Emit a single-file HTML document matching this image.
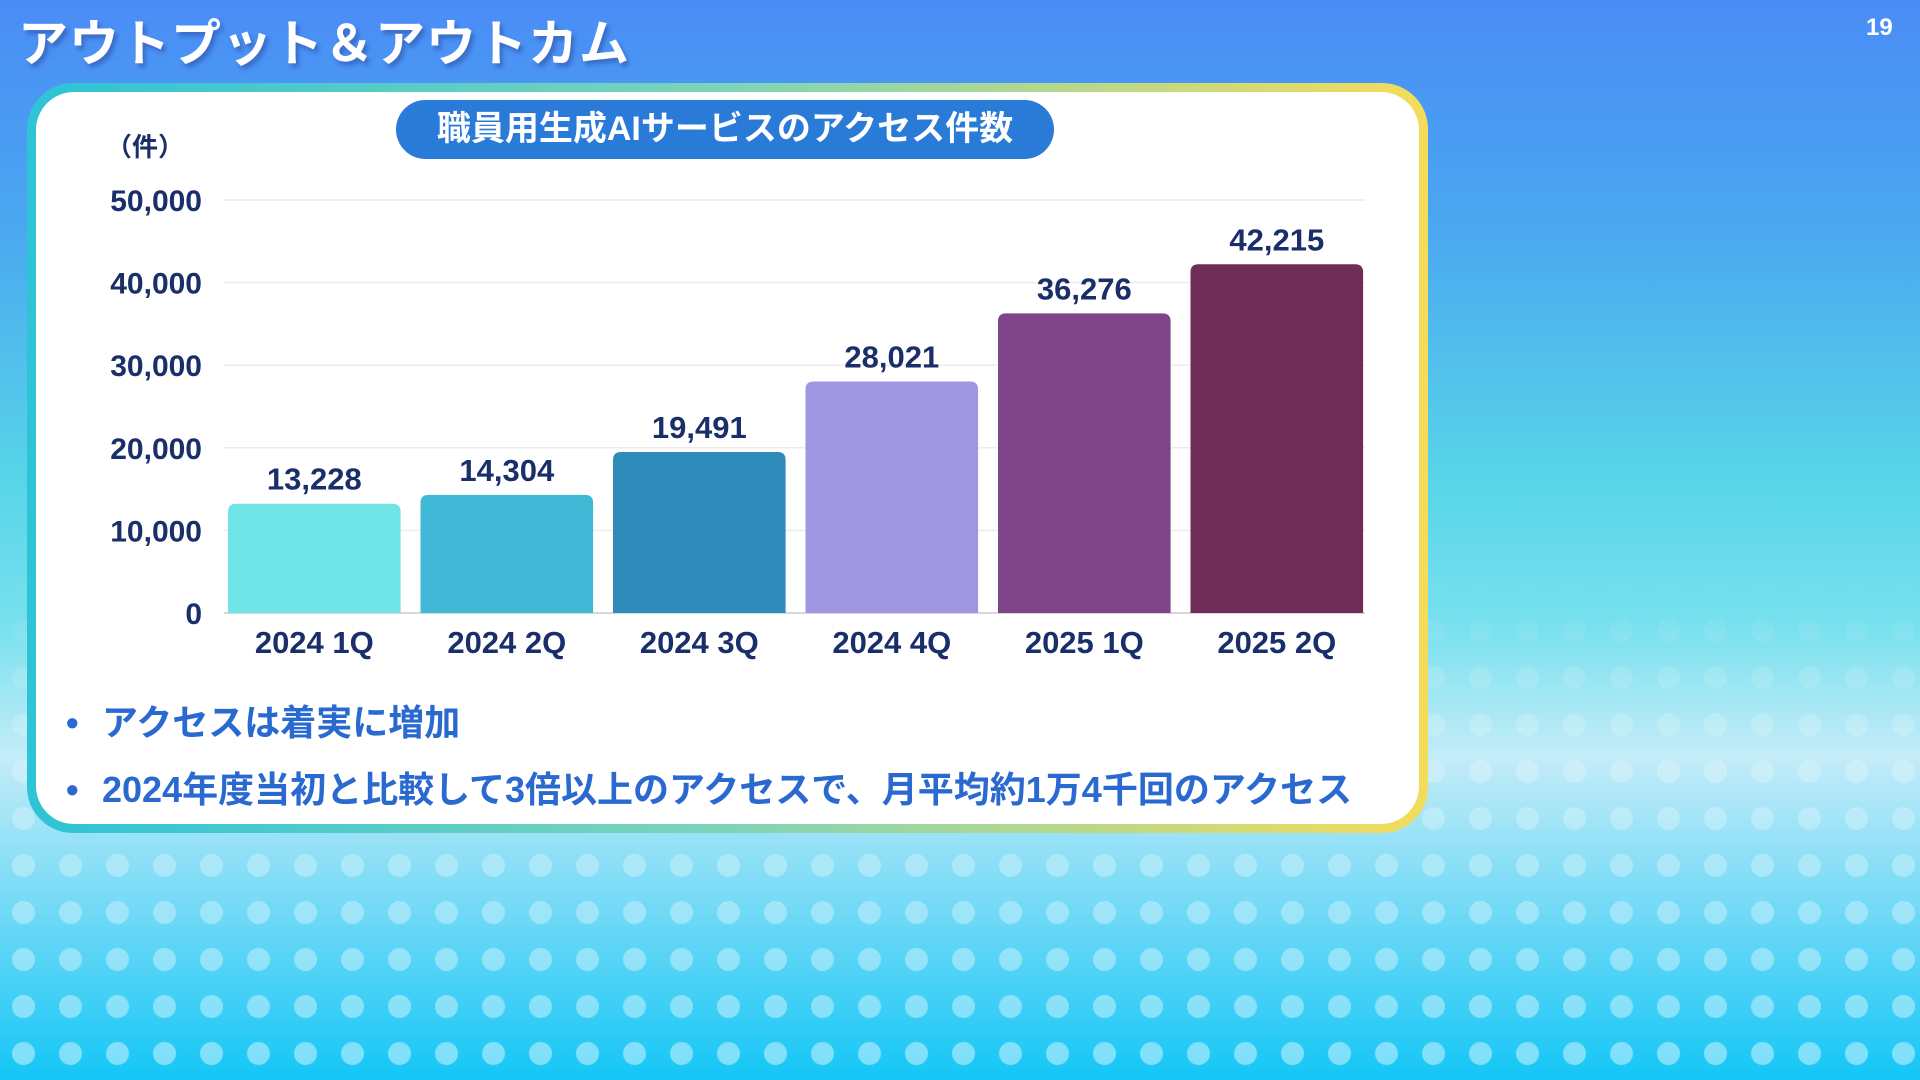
<!DOCTYPE html>
<html><head><meta charset="utf-8"><style>
html,body{margin:0;padding:0}
body{width:1920px;height:1080px;position:relative;overflow:hidden;font-family:"Liberation Sans","Noto Sans CJK JP",sans-serif;
background:linear-gradient(180deg,#4a8cf6 0%,#4aa6f0 20%,#58d6e8 45%,#78e0ee 58%,#c4ecf8 70%,#7fdcf6 82%,#14c6f6 100%);}
#dots{position:absolute;left:0;top:560px;width:1920px;height:520px;
background-image:radial-gradient(circle,rgba(255,255,255,0.45) 11px,transparent 12px);
background-size:47px 47px;background-position:0 0;
-webkit-mask-image:linear-gradient(180deg,transparent 0%,rgba(0,0,0,.5) 40%,#000 100%);
mask-image:linear-gradient(180deg,transparent 0%,rgba(0,0,0,.5) 40%,#000 100%);}
#title{position:absolute;left:18px;top:4px;font-size:50px;font-weight:bold;color:#fff;text-shadow:3px 4px 4px rgba(40,60,140,.45);letter-spacing:1px}
#pnum{position:absolute;left:1866px;top:14px;font-size:24px;color:#fff;font-weight:bold}
#card{position:absolute;left:27px;top:83px;width:1401px;height:750px;border-radius:46px;background:linear-gradient(90deg,#2ec3d6,#7ed4b8 50%,#f4dc5a);}
#inner{position:absolute;left:9px;top:9px;right:9px;bottom:9px;border-radius:38px;background:#fff}
#pill{position:absolute;left:396px;top:100px;width:658px;height:59px;border-radius:30px;background:#2a7ad8;color:#fff;font-size:34px;font-weight:bold;text-align:center;line-height:59px}
.bullet{position:absolute;left:66px;font-size:36px;font-weight:bold;color:#2a6ad0;white-space:nowrap}
.bullet span{display:inline-block;width:36px}
</style></head><body>
<div id="dots"></div>
<div id="title">アウトプット＆アウトカム</div>
<div id="pnum">19</div>
<div id="card"><div id="inner"></div></div>
<div id="pill">職員用生成AIサービスのアクセス件数</div>
<svg id="chart" width="1920" height="1080" style="position:absolute;left:0;top:0"></svg>
<div class="bullet" style="top:694px"><span>•</span>アクセスは着実に増加</div>
<div class="bullet" style="top:761px"><span>•</span>2024年度当初と比較して3倍以上のアクセスで、月平均約1万4千回のアクセス</div>
<script>
const categories=["2024 1Q","2024 2Q","2024 3Q","2024 4Q","2025 1Q","2025 2Q"];
const values=[13228,14304,19491,28021,36276,42215];
const valueLabels=["13,228","14,304","19,491","28,021","36,276","42,215"];
const ticks=[0,10000,20000,30000,40000,50000];
const tickLabels=["0","10,000","20,000","30,000","40,000","50,000"];
const colors=["#6fe5e8","#42b8d7","#2e8bba","#a097e3","#7e4689","#6f2d57"];
const NS="http://www.w3.org/2000/svg";
const svg=document.getElementById('chart');
const x0=224,x1=1365,y0=613,yTop=200,yMax=50000;
const barStart=228,step=192.5,barW=172.6;
function y(v){return y0-(v/yMax)*(y0-yTop);}
function xb(i){return barStart+step*i;}
function mk(t,a,txt){const e=document.createElementNS(NS,t);for(const k in a)e.setAttribute(k,a[k]);if(txt!==undefined)e.textContent=txt;svg.appendChild(e);return e;}
const F='"Liberation Sans","Noto Sans CJK JP",sans-serif';
ticks.forEach((t,i)=>{
 const g=mk('line',{x1:x0,x2:x1,y1:y(t),y2:y(t),stroke:i==0?'#d8d8d8':'#ececec','stroke-width':i==0?2:1.5});
 
 
 const l=mk('text',{x:202,y:y(t)+11,'text-anchor':'end','font-size':30,'font-weight':'bold',fill:'#1a2e6a','font-family':F},tickLabels[i]);
 
 
});
const unit=mk('text',{x:106,y:156,'font-size':26,'font-weight':'bold',fill:'#1a2e6a','font-family':F},'（件）');


values.forEach((v,i)=>{
 const w=barW, bx=xb(i), top=y(v);
 const p=mk('path',{d:`M${bx},${y0}V${top+8}Q${bx},${top} ${bx+8},${top}H${bx+w-8}Q${bx+w},${top} ${bx+w},${top+8}V${y0}Z`,fill:colors[i]});
 
 
 const t=mk('text',{x:bx+w/2,y:top-14,'text-anchor':'middle','font-size':31,'font-weight':'bold',fill:'#1a2e6a','font-family':F},valueLabels[i]);
 
 
 const c=mk('text',{x:bx+w/2,y:653,'text-anchor':'middle','font-size':31,'font-weight':'bold',fill:'#1a2e6a','font-family':F},categories[i]);
 
 
});
</script>
</body></html>
